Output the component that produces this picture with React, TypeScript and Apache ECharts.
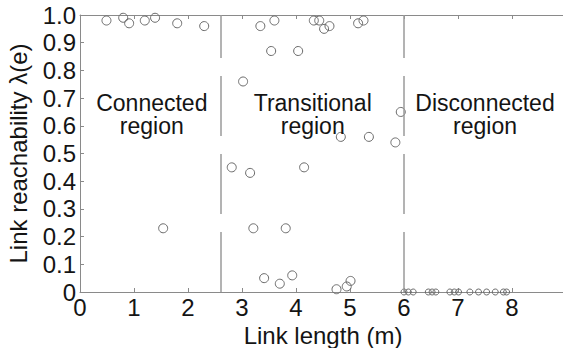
import React, { useEffect, useRef } from "react";
import * as echarts from "echarts";

// Link length (m), reachability λ(e)
const mainX = [0.49, 0.8, 0.91, 1.2, 1.39, 1.8, 2.3, 1.54,
  3.34, 3.6, 4.33, 4.43, 4.52, 4.62, 5.15, 5.25, 3.54, 4.04, 3.02, 5.94, 4.83, 5.35, 5.84,
  2.81, 3.15, 4.15, 3.21, 3.81, 3.41, 3.7, 3.93, 4.75, 4.94, 5.01];
const mainY = [0.98, 0.99, 0.97, 0.98, 0.99, 0.97, 0.96, 0.23,
  0.96, 0.98, 0.98, 0.98, 0.95, 0.96, 0.97, 0.98, 0.87, 0.87, 0.76, 0.65, 0.56, 0.56, 0.54,
  0.45, 0.43, 0.45, 0.23, 0.23, 0.05, 0.03, 0.06, 0.01, 0.02, 0.04];
const discX = [6.0, 6.08, 6.17, 6.45, 6.52, 6.59, 6.85, 6.93, 7.01, 7.22, 7.38, 7.53, 7.69, 7.84, 7.9];
const discY = [0, 0, 0, 0, 0, 0, 0, 0, 0, 0, 0, 0, 0, 0, 0];

const boundaries = [2.6, 6.0];
const regionLabels = ["Connected\nregion", "Transitional\nregion", "Disconnected\nregion"];
const regionX = [1.33, 4.31, 7.5];
const regionY = [0.64, 0.64, 0.64];

const xTicks = [0, 1, 2, 3, 4, 5, 6, 7, 8, 9];
const yTickLabels = ["0", "0.1", "0.2", "0.3", "0.4", "0.5", "0.6", "0.7", "0.8", "0.9", "1.0"];

const FONT = "'Liberation Sans', Arial, sans-serif";
const AXIS = "#8a8a8a";
const TEXT = "#141414";

export default function App() {
  const ref = useRef<HTMLDivElement>(null);
  useEffect(() => {
    if (!ref.current) return;
    const chart = echarts.init(ref.current, null, { renderer: "svg" });
    const circleStyle = { color: "rgba(255,255,255,0)", borderColor: "#6a6a6a", borderWidth: 1, opacity: 1 };
    chart.setOption({
      animation: false,
      textStyle: { fontFamily: FONT },
      grid: { left: 80, top: 15, width: 486, height: 277, containLabel: false, outerBoundsMode: "none" },
      xAxis: [
        {
          type: "value", min: xTicks[0], max: xTicks[xTicks.length - 1], interval: 1,
          name: "Link length (m)", nameLocation: "middle", nameGap: 20,
          nameTextStyle: { fontSize: 24, color: TEXT, fontFamily: FONT },
          axisLine: { show: true, lineStyle: { color: AXIS, width: 1 } },
          axisTick: { show: true, inside: true, length: 4, lineStyle: { color: AXIS } },
          axisLabel: { fontSize: 24, color: TEXT, margin: 3, fontFamily: FONT,
            formatter: (v: number) => (v === 9 ? "" : String(v)) },
          splitLine: { show: false },
        },
        {
          type: "value", position: "top", min: xTicks[0], max: xTicks[xTicks.length - 1], interval: 1,
          axisLine: { show: true, lineStyle: { color: AXIS, width: 1 } },
          axisTick: { show: true, inside: true, length: 4, lineStyle: { color: AXIS } },
          axisLabel: { show: false },
          splitLine: { show: false },
        },
      ],
      yAxis: {
        type: "value", min: 0, max: 1, interval: 0.1,
        name: "Link reachability λ(e)", nameLocation: "middle", nameGap: 50,
        nameTextStyle: { fontSize: 24, color: TEXT, fontFamily: FONT },
        axisLine: { show: true, lineStyle: { color: AXIS, width: 1 } },
        axisTick: { show: true, inside: true, length: 4, lineStyle: { color: AXIS } },
        axisLabel: { fontSize: 24, color: TEXT, margin: 4, fontFamily: FONT,
          formatter: (v: number) => yTickLabels[Math.round(v * 10)] },
        splitLine: { show: false },
      },
      series: [
        {
          type: "scatter", symbol: "circle", symbolSize: 9,
          data: mainX.map((x, i) => [x, mainY[i]]),
          itemStyle: circleStyle,
          markLine: {
            silent: true, symbol: "none", label: { show: false },
            lineStyle: { color: "#9a9a9a", width: 1.5, type: [60, 18] },
            data: boundaries.map((b) => [{ coord: [b, 0] }, { coord: [b, 1] }]),
          },
        },
        {
          type: "scatter", symbol: "circle", symbolSize: 6,
          data: discX.map((x, i) => [x, discY[i]]),
          itemStyle: circleStyle,
        },
        {
          type: "scatter", symbolSize: 0, silent: true,
          itemStyle: { opacity: 1 },
          data: regionX.map((x, i) => ({ value: [x, regionY[i]], name: regionLabels[i] })),
          label: {
            show: true, position: "inside", formatter: (p: any) => p.name,
            fontSize: 23, lineHeight: 23, color: TEXT, fontFamily: FONT, align: "center",
            opacity: 1,
          },
        },
      ],
    });
    return () => chart.dispose();
  }, []);
  return <div ref={ref} style={{ width: 563, height: 348, position: "absolute", left: 0, top: 0 }} />;
}
